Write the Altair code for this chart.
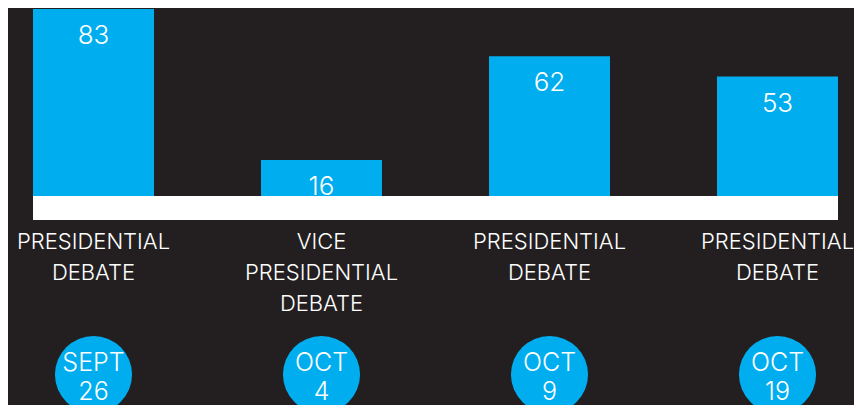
import altair as alt
import pandas as pd

# ---- data ----
order = [1, 2, 3, 4]
events = ["PRESIDENTIAL DEBATE", "VICE PRESIDENTIAL DEBATE",
          "PRESIDENTIAL DEBATE", "PRESIDENTIAL DEBATE"]
months = ["SEPT", "OCT", "OCT", "OCT"]
days = ["26", "4", "9", "19"]
values = [83, 16, 62, 53]

df = pd.DataFrame({"idx": order, "event": events, "month": months,
                   "day": days, "value": values})

BG = "#231f20"
BLUE = "#00aeef"
FONT = "Inter"

base = alt.Chart(df).transform_calculate(
    lines="split(datum.event, ' ')",
    date="[datum.month, datum.day]",
)

x = alt.X("idx:O", axis=None,
          scale=alt.Scale(paddingInner=0.4693, paddingOuter=0))
y = alt.Y("value:Q", axis=None, scale=alt.Scale(domain=[0, 83]))

band = base.mark_rect(color="white").encode(
    x=alt.value(0), x2=alt.value("width"),
    y=alt.value(187), y2=alt.value(211),
)

bars = base.mark_bar(color=BLUE).encode(x=x, y=y)

vals = base.mark_text(
    color="white", font=FONT, fontWeight=300, fontSize=26,
    baseline="alphabetic", dy=35,
).encode(x=x, y=y, text="value:Q")

labels = base.mark_text(
    color="white", font=FONT, fontWeight=300, fontSize=22,
    baseline="alphabetic", lineHeight=31,
).encode(x=x, y=alt.value(240), text="lines:N")

circles = base.mark_circle(color=BLUE, opacity=1, size=5945).encode(
    x=x, y=alt.value(365.5),
)

dates = base.mark_text(
    color="white", font=FONT, fontWeight=300, fontSize=25,
    baseline="alphabetic", lineHeight=29,
).encode(x=x, y=alt.value(362), text="date:N")

chart = alt.layer(band, bars, vals, labels, circles, dates).properties(
    width=805, height=187,
    autosize=alt.AutoSizeParams(type="none"),
    padding={"left": 25, "top": 1, "right": 16, "bottom": 209},
    background=BG,
).configure_view(stroke=None)

chart.save("out.html", embed_options={"renderer": "svg", "actions": False})
